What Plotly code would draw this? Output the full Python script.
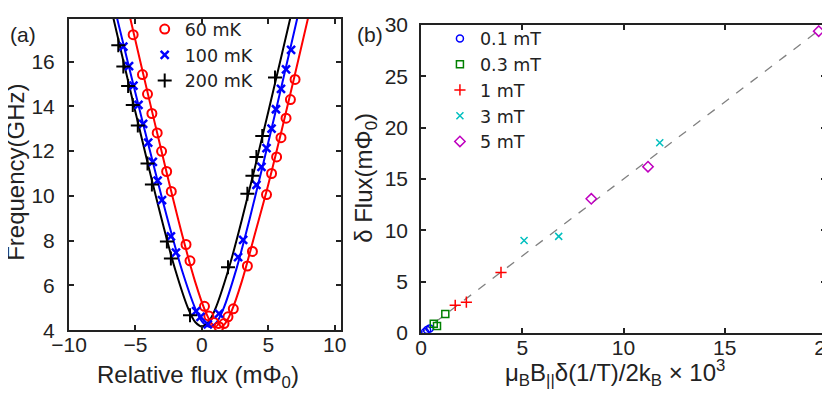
import plotly.graph_objects as go

# panel (a): measured points
red_x = [-5.17, -4.47, -4.09, -3.76, -3.36, -3.03, -2.65, -2.30, -1.19, -0.89, 0.20, 0.53, 0.91,
         1.29, 1.67, 1.97, 2.37, 3.43, 3.81, 4.87, 5.25, 5.63, 5.96, 6.34, 6.67, 7.02]
red_y = [17.2, 15.42, 14.55, 13.68, 12.81, 11.99, 11.09, 10.2, 7.83, 7.10, 5.07, 4.64, 4.35,
         4.16, 4.30, 4.6, 4.96, 6.87, 7.52, 10.06, 11.0, 11.74, 12.6, 13.47, 14.3, 15.2]
blue_x = [-5.91, -5.48, -5.15, -4.77, -4.42, -4.04, -3.69, -3.33, -3.0, -2.33, -1.95, -0.43, -0.1,
          0.45, 1.29, 2.73, 3.11, 4.11, 4.49, 4.87, 5.25, 5.58, 5.96, 6.34, 6.72]
blue_y = [16.67, 15.8, 14.93, 14.06, 13.22, 12.38, 11.52, 10.68, 9.81, 8.19, 7.47, 4.86, 4.6,
          4.26, 4.74, 7.27, 8.04, 10.49, 11.3, 12.13, 13.0, 13.87, 14.78, 15.65, 16.52]
black_x = [-6.29, -5.91, -5.55, -5.2, -4.82, -4.09, -3.76, -2.63, -2.33, -0.89, 1.97, 3.43,
           3.81, 4.11, 4.55, 5.51]
black_y = [16.73, 15.78, 14.91, 14.06, 13.14, 11.45, 10.51, 7.96, 7.2, 4.67, 6.81, 10.1,
           10.9, 11.74, 12.67, 15.29]

# panel (a): fit curves
red_fit_x = [-5.4, -4.5, -3.5, -2.5, -1.5, -0.5, 0.25, 0.75, 1.25, 1.75, 2.25, 3.0, 4.0, 5.0, 6.0, 7.0, 8.0]
red_fit_y = [17.96, 15.67, 13.15, 10.68, 8.31, 6.16, 4.87, 4.30, 4.1, 4.30, 4.87, 6.16, 8.31, 10.5, 12.9, 15.4, 17.95]
blue_fit_x = [-6.4, -5.4, -4.4, -3.4, -2.4, -1.4, -0.4, 0.1, 0.6, 1.1, 1.6, 2.6, 3.6, 4.6, 5.6, 6.6, 7.2]
blue_fit_y = [17.98, 15.56, 13.17, 10.83, 8.57, 6.5, 4.84, 4.33, 4.15, 4.35, 4.92, 6.73, 8.97, 11.38, 13.88, 16.43, 17.97]
black_fit_x = [-6.7, -6, -5, -4, -3, -2, -1, -0.5, 0, 0.5, 1, 2, 3, 4, 5, 6, 6.7]
black_fit_y = [18.04, 16.26, 13.75, 11.28, 8.9, 6.7, 4.93, 4.37, 4.17, 4.37, 4.93, 6.7, 8.9, 11.28, 13.75, 16.26, 18.04]

# panel (b)
b01_x, b01_y = [0.2, 0.3, 0.43], [0.1, 0.3, 0.45]
b03_x, b03_y = [0.63, 0.79, 1.2], [0.9, 0.69, 1.86]
b1_x, b1_y = [1.69, 2.24, 3.95], [2.7, 3.0, 5.9]
b3_x, b3_y = [5.09, 6.8, 11.79], [9.0, 9.41, 18.52]
b5_x, b5_y = [8.41, 11.21, 19.64], [13.07, 16.2, 29.4]
line_x, line_y = [0, 20], [0, 30]

font = "Liberation Sans, Arial, sans-serif"
lfont = "DejaVu Sans, sans-serif"
ink = "#222222"

fig = go.Figure()

for fx, fy, c in [(red_fit_x, red_fit_y, "red"), (blue_fit_x, blue_fit_y, "blue"), (black_fit_x, black_fit_y, "black")]:
    fig.add_trace(go.Scatter(x=fx, y=fy, mode="lines", line=dict(color=c, width=2, shape="spline"),
                             showlegend=False, xaxis="x", yaxis="y"))

fig.add_trace(go.Scatter(x=red_x, y=red_y, mode="markers", name="60 mK",
                         marker=dict(symbol="circle-open", size=9, color="red", line=dict(width=2)),
                         xaxis="x", yaxis="y", legend="legend"))
fig.add_trace(go.Scatter(x=blue_x, y=blue_y, mode="markers", name="100 mK",
                         marker=dict(symbol="x-thin-open", size=8, color="blue", line=dict(width=2.5, color="blue")),
                         xaxis="x", yaxis="y", legend="legend"))
fig.add_trace(go.Scatter(x=black_x, y=black_y, mode="markers", name="200 mK",
                         marker=dict(symbol="cross-thin-open", size=10, color="black", line=dict(width=2, color="black")),
                         xaxis="x", yaxis="y", legend="legend"))

fig.add_trace(go.Scatter(x=line_x, y=line_y, mode="lines", line=dict(color="gray", width=1.3, dash="dash"),
                         showlegend=False, xaxis="x2", yaxis="y2"))
specs = [
    (b01_x, b01_y, "0.1 mT", "circle-open", "blue", 7),
    (b03_x, b03_y, "0.3 mT", "square-open", "green", 7),
    (b1_x, b1_y, "1 mT", "cross-thin-open", "red", 8),
    (b3_x, b3_y, "3 mT", "x-thin-open", "#00bfbf", 7),
    (b5_x, b5_y, "5 mT", "diamond-open", "#bf00bf", 8),
]
for bx, by, nm, sym, c, sz in specs:
    fig.add_trace(go.Scatter(x=bx, y=by, mode="markers", name=nm,
                             marker=dict(symbol=sym, size=sz, color=c, line=dict(width=1.5, color=c)),
                             xaxis="x2", yaxis="y2", legend="legend2"))

ax = dict(showline=True, linecolor=ink, linewidth=2, mirror="ticks", ticks="inside", ticklen=5,
          tickcolor=ink, tickwidth=1.5, showgrid=False, zeroline=False, automargin=False,
          ticklabeloverflow="allow", tickfont=dict(family=font, size=21, color=ink))


def title(text, x, y, size, angle=0):
    return dict(text=text, x=x, y=y, xref="paper", yref="paper", xanchor="center", yanchor="middle",
                textangle=angle, showarrow=False, font=dict(family=font, size=size, color=ink))


fig.update_layout(
    width=830, height=397,
    margin=dict(l=61, r=12, t=3, b=71.5),
    paper_bgcolor="white", plot_bgcolor="white",
    xaxis=dict(ax, domain=[0, 0.3597], range=[-10, 10.5], tickvals=[-10, -5, 0, 5, 10], ticklabelstandoff=-5),
    yaxis=dict(ax, domain=[0.0087, 1], range=[4, 17.9], tickvals=[4, 6, 8, 10, 12, 14, 16], ticklabelstandoff=8),
    xaxis2=dict(ax, domain=[0.465, 1], range=[0, 20], tickvals=[0, 5, 10, 15, 20], anchor="y2",
                linewidth=1.5, ticklabelstandoff=-5),
    yaxis2=dict(ax, domain=[0, 0.981], range=[0, 30], tickvals=[0, 5, 10, 15, 20, 25, 30], anchor="x2",
                linewidth=1.5, ticklabelstandoff=7),
    legend=dict(x=0.100, y=1.025, xanchor="left", yanchor="top", bgcolor="rgba(0,0,0,0)",
                font=dict(family=lfont, size=17.5, color=ink), itemwidth=30),
    legend2=dict(x=0.490, y=0.995, xanchor="left", yanchor="top", bgcolor="rgba(0,0,0,0)",
                 font=dict(family=lfont, size=17.5, color=ink), itemwidth=30),
    annotations=[
        dict(text="(a)", x=-0.0806, y=0.952, xref="paper", yref="paper", xanchor="left", yanchor="middle",
             showarrow=False, font=dict(family=font, size=21, color=ink)),
        dict(text="(b)", x=0.3778, y=0.952, xref="paper", yref="paper", xanchor="left", yanchor="middle",
             showarrow=False, font=dict(family=font, size=21, color=ink)),
        title("Frequency(GHz)", -0.070, 0.51, 24, -90),
        title("Relative flux (mΦ<sub>0</sub>)", 0.170, -0.140, 24),
        title("μ<sub>B</sub>B<sub>||</sub>δ(1/T)/2k<sub>B</sub> × 10<sup>3</sup>", 0.7215, -0.128, 24),
        title("δ Flux(mΦ<sub>0</sub>)", 0.3923, 0.494, 24, -90),
    ],
)

fig.write_html("out.html")
